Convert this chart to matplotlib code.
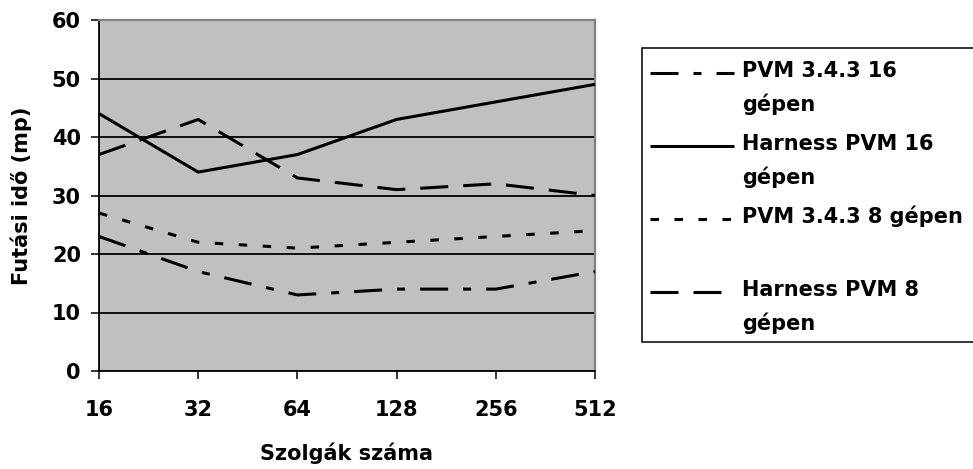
import matplotlib.pyplot as plt
from matplotlib.lines import Line2D
from matplotlib.patches import Rectangle

# Data
slaves = ["16", "32", "64", "128", "256", "512"]
pvm_16 = [23, 17, 13, 14, 14, 17]
harness_16 = [44, 34, 37, 43, 46, 49]
pvm_8 = [27, 22, 21, 22, 23, 24]
harness_8 = [37, 43, 33, 31, 32, 30]

legend_text = [
    ["PVM 3.4.3 16", "gépen"],
    ["Harness PVM 16", "gépen"],
    ["PVM 3.4.3 8 gépen"],
    ["Harness PVM 8", "gépen"],
]
yticks = [0, 10, 20, 30, 40, 50, 60]

W, H = 973, 469
PX = 0.72  # points per pixel at dpi 100


def dash(*px):
    """Dash pattern given in pixels, returned in points."""
    return (0, tuple(p * PX for p in px))


styles = [
    dash(28, 15, 8, 15),
    "-",
    dash(8.5, 15.5),
    dash(28, 15),
]
series = [pvm_16, harness_16, pvm_8, harness_8]

plt.rcParams["lines.scale_dashes"] = False
plt.rcParams["font.family"] = ["DejaVu Sans"]
plt.rcParams["font.weight"] = "bold"

fig = plt.figure(figsize=(W / 100, H / 100), dpi=100)
ax = fig.add_axes([99 / W, 1 - 371 / H, (595 - 99) / W, (371 - 20) / H])
ax.set_facecolor("#C0C0C0")

x = list(range(len(slaves)))
for vals, ls in zip(series, styles):
    ax.plot(x, vals, color="black", linewidth=2.2, linestyle=ls,
            solid_capstyle="butt", dash_capstyle="butt", clip_on=False, zorder=3)

ax.set_xlim(0, len(slaves) - 1)
ax.set_ylim(0, 60)
ax.set_xticks(x)
ax.set_xticklabels(slaves)
ax.set_yticks(yticks)

ax.set_axisbelow(True)
ax.yaxis.grid(True, color="black", linewidth=1.3)
ax.xaxis.grid(False)

for side in ("top", "right"):
    ax.spines[side].set_color("#808080")
    ax.spines[side].set_linewidth(1.6)
for side in ("left", "bottom"):
    ax.spines[side].set_color("black")
    ax.spines[side].set_linewidth(1.3)

ax.tick_params(axis="both", direction="out", length=6, width=1.1,
               color="black", labelsize=15)
ax.tick_params(axis="x", pad=15)
ax.tick_params(axis="y", pad=7)

ax.set_xlabel("Szolgák száma", fontsize=15, fontweight="bold", labelpad=16)
ax.set_ylabel("Futási idő (mp)", fontsize=15, fontweight="bold", labelpad=14)

# Legend box, drawn in figure pixel positions like the original
fig.patches.append(Rectangle((642 / W, 1 - 342 / H), (1000 - 642) / W, (342 - 48) / H,
                             transform=fig.transFigure, facecolor="white",
                             edgecolor="black", linewidth=1.1, zorder=1))
for i, (lines, ls) in enumerate(zip(legend_text, styles)):
    base = 77 + 73 * i
    hy = 1 - (base - 4) / H
    fig.add_artist(Line2D([650 / W, 734 / W], [hy, hy], transform=fig.transFigure,
                          color="black", linewidth=2.2, linestyle=ls,
                          solid_capstyle="butt", dash_capstyle="butt", zorder=2))
    for j, line in enumerate(lines):
        fig.text(742 / W, 1 - (base + 34 * j) / H, line, fontsize=15,
                 fontweight="bold", va="baseline", ha="left", zorder=2)

fig.savefig("out.png", dpi=100)
